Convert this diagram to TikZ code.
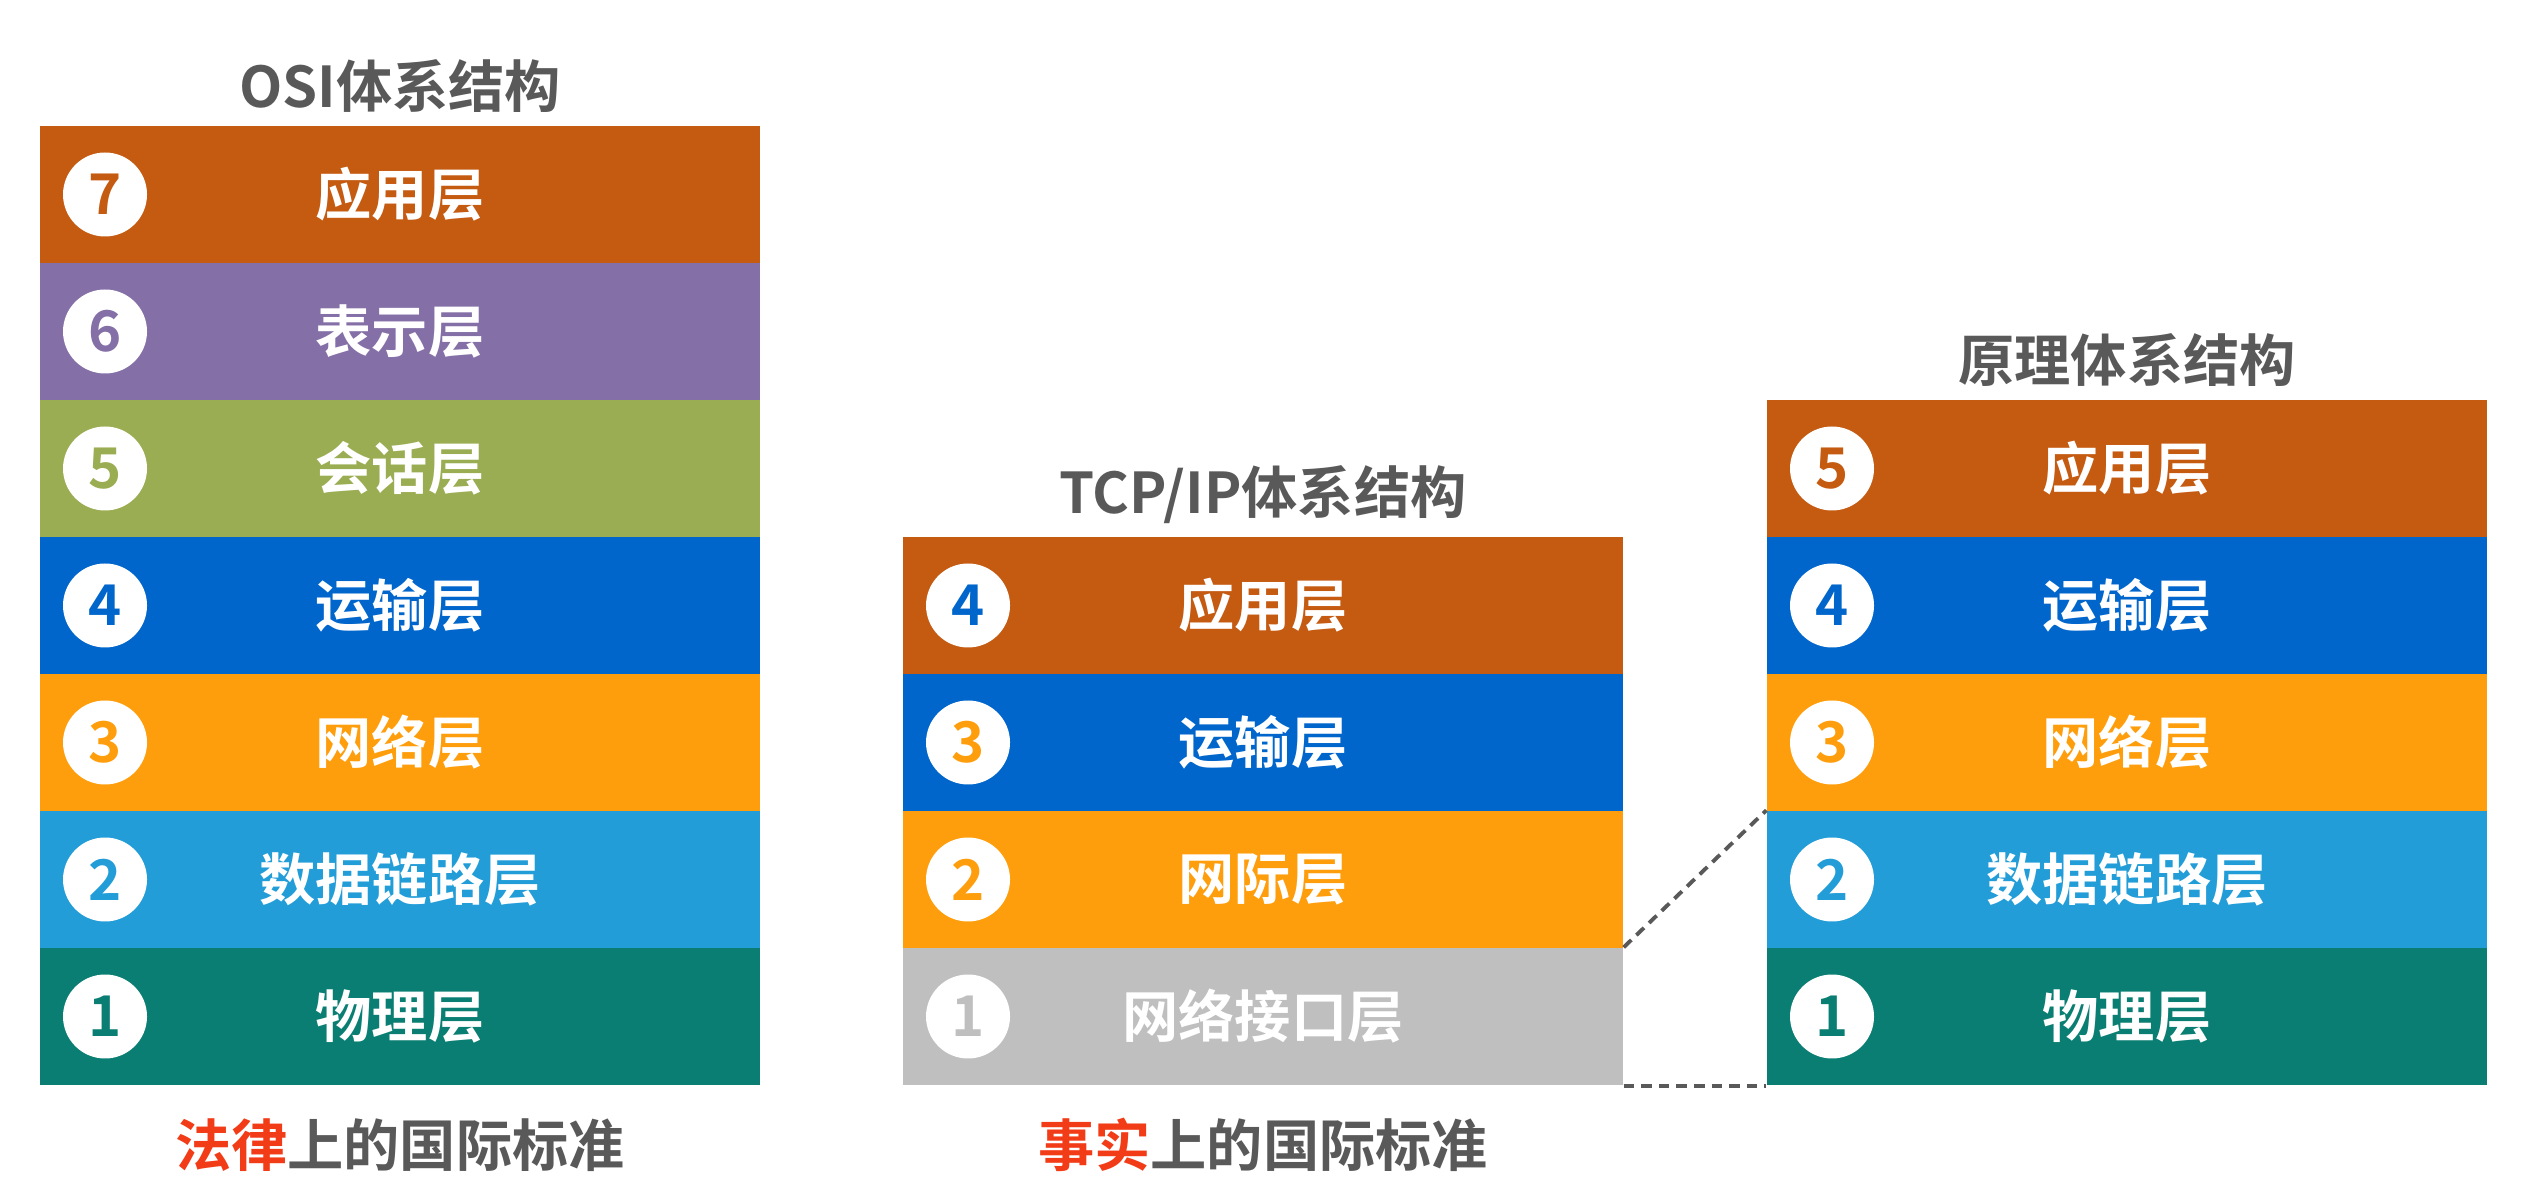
\documentclass[tikz,border=0pt]{standalone}
\usepackage{fontspec}
\newfontfamily\cjk{Noto Sans CJK SC}[BoldFont={Noto Sans CJK SC Bold}]
\usepackage{tikz}
\usetikzlibrary{positioning}

\definecolor{cApp}{HTML}{C55A11}
\definecolor{cPre}{HTML}{8470A7}
\definecolor{cSes}{HTML}{9BAD52}
\definecolor{cTra}{HTML}{0066CC}
\definecolor{cNet}{HTML}{FF9E0D}
\definecolor{cDat}{HTML}{229DD8}
\definecolor{cPhy}{HTML}{0A7E73}
\definecolor{cIf}{HTML}{BFBFBF}
\definecolor{cTitle}{HTML}{595959}
\definecolor{cRed}{HTML}{F23C17}

\begin{document}
\begin{tikzpicture}[x=0.1cm,y=0.1cm]
    \tikzset{layer/.style={rectangle,minimum width=7.2cm,minimum height=1.37cm,inner sep=0pt,text=white,font={\cjk\bfseries\fontsize{16pt}{18pt}\selectfont}}}
    \tikzset{numdot/.style={circle,fill=white,minimum size=0.84cm,inner sep=0pt,font={\cjk\bfseries\fontsize{16pt}{17pt}\selectfont}}}
    \tikzset{title/.style={inner sep=0pt,text=cTitle,font={\cjk\bfseries\fontsize{16pt}{18pt}\selectfont}}}
    \tikzset{link/.style={cTitle,line width=1.1pt,dash pattern=on 3pt off 2pt}}
    \useasboundingbox (0,0) rectangle (253.6,118.6);

    % Left (OSI)
    \foreach \n/\txt/\col in {7/应用层/cApp,6/表示层/cPre,5/会话层/cSes,4/运输层/cTra,3/网络层/cNet,2/数据链路层/cDat,1/物理层/cPhy}{
      \node[layer,fill=\col] (osi\n) at (40,{3.25+13.7*\n}) {\txt};
      \node[numdot,text=\col,right=0.23cm of osi\n.west] (osidot\n) {\n};
    }
    \node[title,above=0.12cm of osi7] (osititle) {OSI体系结构};
    \node[title,below=0.32cm of osi1] (osinote) {\textcolor{cRed}{法律}上的国际标准};

    % Middle (TCP/IP)
    \foreach \n/\txt/\col/\ncol in {4/应用层/cApp/cTra,3/运输层/cTra/cNet,2/网际层/cNet/cNet,1/网络接口层/cIf/cIf}{
      \node[layer,fill=\col] (tcp\n) at (126.3,{3.25+13.7*\n}) {\txt};
      \node[numdot,text=\ncol,right=0.23cm of tcp\n.west] (tcpdot\n) {\n};
    }
    \node[title,above=0.12cm of tcp4] (tcptitle) {TCP/IP体系结构};
    \node[title,below=0.32cm of tcp1] (tcpnote) {\textcolor{cRed}{事实}上的国际标准};

    % Right (five layers)
    \foreach \n/\txt/\col in {5/应用层/cApp,4/运输层/cTra,3/网络层/cNet,2/数据链路层/cDat,1/物理层/cPhy}{
      \node[layer,fill=\col] (ref\n) at (212.7,{3.25+13.7*\n}) {\txt};
      \node[numdot,text=\col,right=0.23cm of ref\n.west] (refdot\n) {\n};
    }
    \node[title,above=0.12cm of ref5] (reftitle) {原理体系结构};

    % Dashed links (interface layer -> two lower layers)
    \draw[link] (tcp1.north east) -- (ref2.north west);
    \draw[link] (tcp1.south east) -- (ref1.south west);
\end{tikzpicture}
\end{document}
